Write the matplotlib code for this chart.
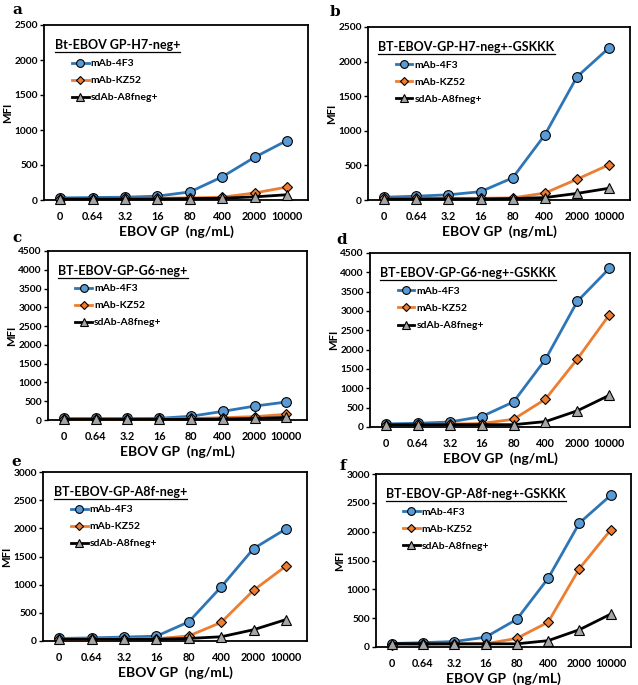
import matplotlib
matplotlib.use('Agg')
import matplotlib.pyplot as plt

plt.rcParams['font.family'] = ['Lato', 'DejaVu Sans']
plt.rcParams['font.weight'] = 'bold'

doses = ['0', '0.64', '3.2', '16', '80', '400', '2000', '10000']
series_names = ['mAb-4F3', 'mAb-KZ52', 'sdAb-A8fneg+']
panel_letters = ['a', 'b', 'c', 'd', 'e', 'f']
panel_titles = ['Bt-EBOV GP-H7-neg+', 'BT-EBOV-GP-H7-neg+-GSKKK',
                'BT-EBOV-GP-G6-neg+', 'BT-EBOV-GP-G6-neg+-GSKKK',
                'BT-EBOV-GP-A8f-neg+', 'BT-EBOV-GP-A8f-neg+-GSKKK']
panel_ymax = [2500, 2500, 4500, 4500, 3000, 3000]

# MFI values per panel: 4F3, KZ52, A8fneg+
mfi_a = [[30, 35, 40, 55, 115, 330, 610, 850],
         [20, 20, 25, 25, 30, 40, 100, 185],
         [15, 15, 15, 15, 20, 25, 45, 75]]
mfi_b = [[40, 55, 75, 120, 320, 940, 1780, 2200],
         [25, 25, 25, 25, 30, 100, 300, 510],
         [15, 15, 15, 15, 20, 35, 95, 170]]
mfi_c = [[40, 40, 40, 45, 100, 230, 370, 480],
         [20, 20, 25, 25, 40, 60, 90, 150],
         [15, 15, 15, 15, 20, 25, 40, 70]]
mfi_d = [[80, 95, 130, 270, 650, 1750, 3250, 4100],
         [60, 65, 75, 90, 200, 720, 1760, 2900],
         [60, 60, 60, 60, 60, 140, 420, 820]]
mfi_e = [[45, 55, 70, 85, 340, 960, 1640, 1990],
         [35, 35, 40, 40, 90, 330, 900, 1330],
         [30, 30, 30, 30, 45, 75, 200, 380]]
mfi_f = [[60, 75, 95, 170, 480, 1190, 2150, 2630],
         [40, 45, 50, 55, 150, 430, 1360, 2030],
         [60, 55, 55, 55, 55, 110, 300, 570]]
panel_data = [mfi_a, mfi_b, mfi_c, mfi_d, mfi_e, mfi_f]

styles = [dict(color='#2E75B6', marker='o', mfc='#5B9BD5', ms=7),
          dict(color='#ED7D31', marker='D', mfc='#ED7D31', ms=5),
          dict(color='black', marker='^', mfc='#A5A5A5', ms=7.5)]

W, H = 638, 685
# axes boxes in pixels: left, top, right, bottom
boxes = [(44, 25, 308, 200), (368, 27, 630, 200),
         (48, 251, 307, 420), (370, 253, 630, 427),
         (43, 472, 307, 641), (376, 474, 631, 647)]
# panel letter positions in pixels
letter_pos = [(12, 10), (330, 12), (12, 238), (336, 240), (11, 462), (340, 466)]

fig = plt.figure(figsize=(W / 100, H / 100), dpi=100)

titles = []
for i in range(6):
    l, t, r, b = boxes[i]
    ax = fig.add_axes([l / W, 1 - b / H, (r - l) / W, (b - t) / H])
    x = range(len(doses))
    for name, vals, st in zip(series_names, panel_data[i], styles):
        ax.plot(x, vals, color=st['color'], lw=2, marker=st['marker'],
                markerfacecolor=st['mfc'], markeredgecolor='black',
                markeredgewidth=0.8, markersize=st['ms'], label=name,
                clip_on=False, zorder=3)
    ax.set_xlim(-0.5, 7.65)
    ax.set_ylim(0, panel_ymax[i])
    ax.set_yticks(range(0, panel_ymax[i] + 1, 500))
    ax.set_xticks(list(x))
    ax.set_xticklabels(doses)
    ax.tick_params(axis='x', labelsize=7.8, length=0, pad=8)
    ax.tick_params(axis='y', labelsize=7.3, width=1, length=3, pad=1.5)
    for s in ax.spines.values():
        s.set_linewidth(1.3)
    ax.set_ylabel('MFI', fontsize=8.2, fontweight='bold', labelpad=0.5)
    ax.set_xlabel('EBOV GP  (ng/mL)', fontsize=10, fontweight='bold', labelpad=2)
    txt = ax.text(0.04, 0.92, panel_titles[i], transform=ax.transAxes,
                  fontsize=9, fontweight='bold', va='top', ha='left')
    titles.append(txt)
    ax.legend(loc='upper left', bbox_to_anchor=(0.09, 0.83), frameon=False,
              fontsize=7.5, handlelength=1.6, handletextpad=0.2,
              labelspacing=0.75, borderaxespad=0, markerscale=0.8)
    lx, ly = letter_pos[i]
    fig.text(lx / W, 1 - ly / H, panel_letters[i], family='DejaVu Serif',
             fontsize=11, fontweight='bold', va='center', ha='left')

# underline the panel titles
fig.canvas.draw()
renderer = fig.canvas.get_renderer()
for txt in titles:
    bb = txt.get_window_extent(renderer).transformed(fig.transFigure.inverted())
    fig.add_artist(plt.Line2D([bb.x0, bb.x1], [bb.y0 - 0.002, bb.y0 - 0.002],
                              transform=fig.transFigure, color='black', lw=0.9))

fig.savefig('out.png', dpi=100)
